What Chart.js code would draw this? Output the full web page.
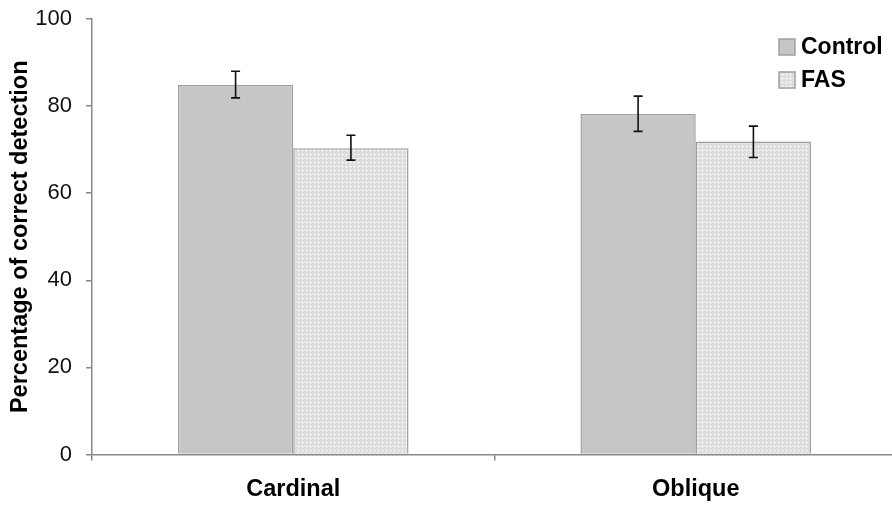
<!DOCTYPE html>
<html>
<head>
<meta charset="utf-8">
<script src="https://cdn.jsdelivr.net/npm/chart.js@4.4.1/dist/chart.umd.min.js"></script>
<style>
  html, body { margin: 0; padding: 0; background: #fff; overflow: hidden; }
  #wrap { width: 900px; height: 506px; }
</style>
</head>
<body>
<div id="wrap"><canvas id="chart" width="900" height="506"></canvas></div>
<script>
// data
const categories = ["Cardinal", "Oblique"];
const controlValues = [84.9, 78.2];
const controlLow = [81.9, 74.2];
const controlHigh = [88.0, 82.3];
const fasValues = [70.3, 71.9];
const fasLow = [67.6, 68.2];
const fasHigh = [73.3, 75.4];
const yTicks = [0, 20, 40, 60, 80, 100];

const FONT = "'Liberation Sans', Arial, sans-serif";

// light dotted fill for FAS bars
function dotPattern() {
  const c = document.createElement("canvas");
  c.width = 4;
  c.height = 4;
  const g = c.getContext("2d");
  g.fillStyle = "#dadada";
  g.fillRect(0, 0, 4, 4);
  g.fillStyle = "#f2f2f2";
  g.fillRect(1, 2, 3, 1);
  g.fillRect(2, 1, 1, 3);
  g.fillStyle = "#e6e6e6";
  g.fillRect(0, 0, 1, 1);
  return g.createPattern(c, "repeat");
}
const fasFill = dotPattern();

const errorBars = {
  id: "errorBars",
  afterDatasetsDraw(chart) {
    const ctx = chart.ctx;
    const y = chart.scales.y;
    const ranges = [[controlLow, controlHigh], [fasLow, fasHigh]];
    ctx.save();
    ctx.strokeStyle = "#111";
    ctx.lineWidth = 1.6;
    chart.data.datasets.forEach((ds, i) => {
      const meta = chart.getDatasetMeta(i);
      meta.data.forEach((bar, j) => {
        const lo = y.getPixelForValue(ranges[i][0][j]);
        const hi = y.getPixelForValue(ranges[i][1][j]);
        ctx.beginPath();
        ctx.moveTo(bar.x, lo);
        ctx.lineTo(bar.x, hi);
        ctx.moveTo(bar.x - 4.5, lo);
        ctx.lineTo(bar.x + 4.5, lo);
        ctx.moveTo(bar.x - 4.5, hi);
        ctx.lineTo(bar.x + 4.5, hi);
        ctx.stroke();
      });
    });
    ctx.restore();
  }
};

const insideLegend = {
  id: "insideLegend",
  afterDraw(chart) {
    const ctx = chart.ctx;
    const area = chart.chartArea;
    ctx.save();
    chart.data.datasets.forEach((ds, i) => {
      const bx = area.right - 118;
      const by = area.top + 20 + i * 33;
      ctx.fillStyle = ds.backgroundColor;
      ctx.fillRect(bx, by, 16, 16);
      ctx.strokeStyle = "#a0a0a0";
      ctx.lineWidth = 1.5;
      ctx.strokeRect(bx, by, 16, 16);
      ctx.fillStyle = "#000";
      ctx.font = "bold 23px " + FONT;
      ctx.textBaseline = "middle";
      ctx.fillText(ds.label, bx + 22, by + 9);
    });
    ctx.restore();
  }
};

new Chart(document.getElementById("chart"), {
  type: "bar",
  data: {
    labels: categories,
    datasets: [
      {
        label: "Control",
        data: controlValues,
        backgroundColor: "#c6c6c6",
        borderColor: "#a0a0a0",
        borderWidth: 1.5,
        categoryPercentage: 0.573,
        barPercentage: 1.0
      },
      {
        label: "FAS",
        data: fasValues,
        backgroundColor: fasFill,
        borderColor: "#a0a0a0",
        borderWidth: 1.5,
        categoryPercentage: 0.573,
        barPercentage: 1.0
      }
    ]
  },
  options: {
    responsive: false,
    animation: false,
    layout: { padding: { top: 19, right: 3, left: 0, bottom: 0 } },
    plugins: {
      legend: { display: false },
      tooltip: { enabled: false }
    },
    scales: {
      x: {
        offset: true,
        grid: {
          offset: true,
          drawOnChartArea: false,
          drawTicks: true,
          tickLength: 6,
          color: "#888",
          lineWidth: 1.5
        },
        border: { color: "#888", width: 1.5 },
        ticks: {
          color: "#000",
          padding: 15,
          font: { family: FONT, size: 23.5, weight: "bold" }
        },
        afterFit(scale) {
          scale.height = 51.5;
          scale.paddingLeft = 0;
          scale.paddingRight = 0;
        }
      },
      y: {
        min: 0,
        max: 100,
        afterBuildTicks(scale) { scale.ticks = yTicks.map(v => ({ value: v })); },
        grid: {
          drawOnChartArea: false,
          drawTicks: true,
          tickLength: 6,
          color: "#888",
          lineWidth: 1.5
        },
        border: { color: "#888", width: 1.5 },
        ticks: {
          color: "#111",
          padding: 14,
          font: { family: FONT, size: 22 }
        },
        title: {
          display: true,
          text: "Percentage of correct detection",
          color: "#000",
          padding: { top: 6, bottom: 0 },
          font: { family: FONT, size: 23.5, weight: "bold" }
        },
        afterFit(scale) {
          scale.width = 92;
          scale.paddingTop = 0;
          scale.paddingBottom = 0;
        }
      }
    }
  },
  plugins: [errorBars, insideLegend]
});
</script>
</body>
</html>
